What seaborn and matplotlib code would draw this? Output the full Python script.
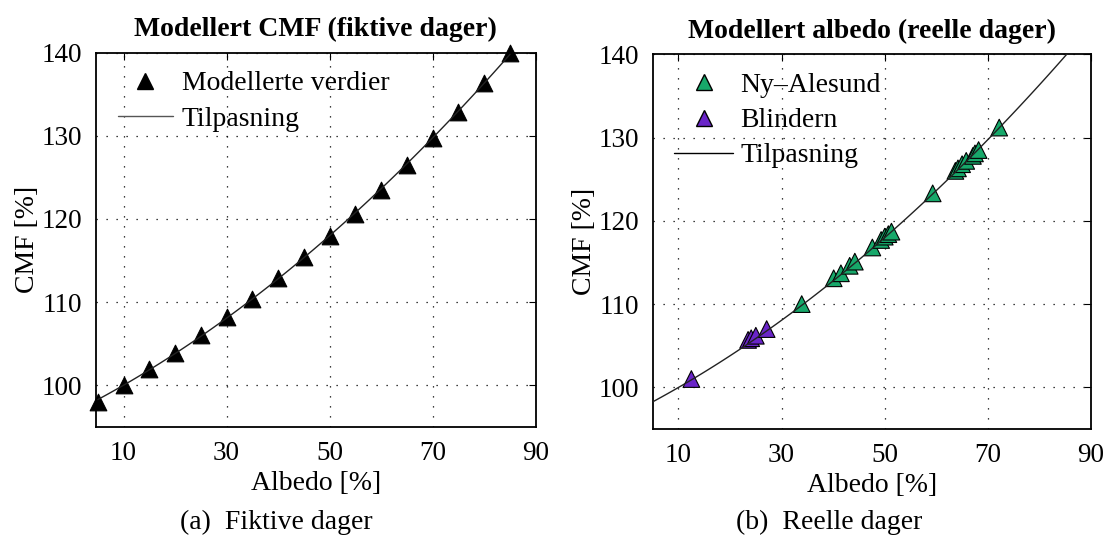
import matplotlib
matplotlib.use("Agg")
import matplotlib.pyplot as plt
from matplotlib.lines import Line2D
import seaborn as sns
import pandas as pd

# ---- data ----
fict_albedo = [5, 10, 15, 20, 25, 30, 35, 40, 45, 50, 55, 60, 65, 70, 75, 80, 85]
fict_cmf = [98.0, 100.0, 101.9, 103.9, 106.0, 108.2, 110.4, 112.9, 115.4, 117.9,
            120.6, 123.5, 126.5, 129.7, 132.9, 136.4, 140.0]

ny_albedo = [33.9, 40.1, 41.5, 43.2, 44.2, 47.6, 49.3, 50.0, 50.7, 51.3,
             59.3, 63.7, 64.2, 65.0, 65.8, 67.1, 67.5, 68.2, 72.2]
ny_cmf = [110.0, 113.1, 113.7, 114.6, 115.1, 116.8, 117.7, 118.1, 118.4, 118.7,
          123.3, 126.0, 126.3, 126.8, 127.2, 127.8, 128.1, 128.5, 131.2]
bl_albedo = [12.5, 23.5, 24.1, 25.0, 27.1]
bl_cmf = [101.0, 105.7, 105.9, 106.2, 107.0]

stations = ["Ny\u2013Alesund", "Blindern"]
station_colors = ["#17a86a", "#6a25c8"]
fit_label = "Tilpasning"
model_label = "Modellerte verdier"

titles = ["Modellert CMF (fiktive dager)", "Modellert albedo (reelle dager)"]
captions = ["(a)  Fiktive dager", "(b)  Reelle dager"]
xlabel = "Albedo [%]"
ylabel = "CMF [%]"
xticks = [10, 30, 50, 70, 90]
yticks = [100, 110, 120, 130, 140]

# ---- style ----
sns.set_style("white")
plt.rcParams["font.family"] = ["Liberation Serif", "DejaVu Serif"]
plt.rcParams["text.color"] = "black"
plt.rcParams["axes.labelcolor"] = "black"
plt.rcParams["xtick.color"] = "black"
plt.rcParams["ytick.color"] = "black"
FS = 20
TFS = 19.5

W, H = 1106, 536
fig = plt.figure(figsize=(W / 100, H / 100), dpi=100)
ax1 = fig.add_axes([95.7 / W, (H - 426.7) / H, 440 / W, 374 / H])
ax2 = fig.add_axes([652.7 / W, (H - 429) / H, 438.3 / W, 374.7 / H])

fict_df = pd.DataFrame({"albedo": fict_albedo, "cmf": fict_cmf})
real_df = pd.DataFrame({
    "albedo": ny_albedo + bl_albedo,
    "cmf": ny_cmf + bl_cmf,
    "station": [stations[0]] * len(ny_albedo) + [stations[1]] * len(bl_albedo),
})

MS = 12
line_kws = dict(color="#222222", lw=1.0, zorder=5)
xlims = [(4.6, 90), (5, 90)]

for ax, xl in zip((ax1, ax2), xlims):
    ax.set_xlim(*xl)
    ax.set_ylim(95, 140)

# left panel
sns.scatterplot(data=fict_df, x="albedo", y="cmf", marker="^", s=MS ** 2,
                color="black", edgecolor="black", linewidth=0.8, ax=ax1,
                legend=False, zorder=4, clip_on=False)
sns.regplot(data=fict_df, x="albedo", y="cmf", order=2, ci=None, scatter=False,
            truncate=True, ax=ax1, line_kws=line_kws)

# right panel
sns.scatterplot(data=real_df, x="albedo", y="cmf", hue="station",
                palette=dict(zip(stations, station_colors)), marker="^",
                s=MS ** 2, edgecolor="black", linewidth=0.8, ax=ax2,
                legend=False, zorder=4)
ax2.set_xlim(*xlims[1])
sns.regplot(data=fict_df, x="albedo", y="cmf", order=2, ci=None, scatter=False,
            truncate=False, ax=ax2, line_kws=line_kws)

for ax, title, xl in zip((ax1, ax2), titles, xlims):
    ax.set_xlim(*xl)
    ax.set_ylim(95, 140)
    ax.set_xticks(xticks)
    ax.set_yticks(yticks)
    ax.grid(True, color="black", linestyle=(0, (1, 7)), linewidth=0.9)
    ax.tick_params(direction="in", length=5, width=0.8, top=True, right=True,
                   labelsize=TFS, pad=10, colors="black")
    for sp in ax.spines.values():
        sp.set_color("black")
        sp.set_linewidth(1.3)
        sp.set_visible(True)
    ax.set_xlabel(xlabel, fontsize=FS, labelpad=4)
    ax.set_ylabel(ylabel, fontsize=FS, labelpad=1)
    ax.set_title(title, fontsize=FS, fontweight="bold", pad=12)

leg_kw = dict(frameon=False, fontsize=FS, loc="upper left", borderpad=0,
              borderaxespad=0, labelspacing=0.35)

h1 = [Line2D([], [], marker="^", ls="none", ms=MS, color="black",
             markeredgecolor="black"),
      Line2D([], [], color="#555555", lw=1.0)]
ax1.legend(h1, [model_label, fit_label], bbox_to_anchor=(0.05, 0.951),
           handlelength=2.0, handletextpad=0.3, **leg_kw)

h2 = [Line2D([], [], marker="^", ls="none", ms=MS, markerfacecolor=c,
             markeredgecolor="black") for c in station_colors]
h2.append(Line2D([], [], color="black", lw=1.0))
ax2.legend(h2, stations + [fit_label], bbox_to_anchor=(0.049, 0.951),
           handlelength=2.12, handletextpad=0.25, **leg_kw)

fig.text(276 / W, 1 - 522 / H, captions[0], ha="center", va="center", fontsize=FS)
fig.text(829 / W, 1 - 522 / H, captions[1], ha="center", va="center", fontsize=FS)

fig.savefig("out.png", dpi=100)
